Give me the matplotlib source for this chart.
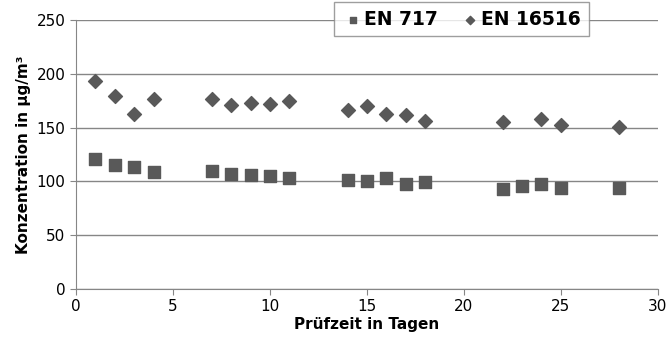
import matplotlib
matplotlib.use("Agg")
import matplotlib.pyplot as plt

# Prüfzeit in Tagen
days_717 = [1, 2, 3, 4, 7, 8, 9, 10, 11, 14, 15, 16, 17, 18, 22, 23, 24, 25, 28]
en717 = [121, 115, 113, 109, 110, 107, 106, 105, 103, 101, 100, 103, 98, 99, 93, 96, 98, 94, 94]

days_16516 = [1, 2, 3, 4, 7, 8, 9, 10, 11, 14, 15, 16, 17, 18, 22, 24, 25, 28]
en16516 = [193, 179, 163, 177, 177, 171, 173, 172, 175, 166, 170, 163, 162, 156, 155, 158, 152, 151]

xticks = [0, 5, 10, 15, 20, 25, 30]
yticks = [0, 50, 100, 150, 200, 250]

grey = "#595959"
line = "#868686"

fig = plt.figure(figsize=(6.72, 3.52), dpi=100)
ax = fig.add_axes([0.113, 0.179, 0.866, 0.764])

ax.scatter(days_717, en717, marker="s", s=70, color=grey, label="EN 717", zorder=3)
ax.scatter(days_16516, en16516, marker="D", s=50, color=grey, label="EN 16516", zorder=3)

ax.set_xlim(0, 30)
ax.set_ylim(0, 250)
ax.set_xticks(xticks)
ax.set_yticks(yticks)
ax.yaxis.grid(True, color=line, lw=1)
ax.set_axisbelow(True)
for s in ["top", "right"]:
    ax.spines[s].set_visible(False)
for s in ["left", "bottom"]:
    ax.spines[s].set_color(line)
ax.tick_params(colors=line, labelcolor="black", labelsize=11, length=4)

ax.set_xlabel("Prüfzeit in Tagen", fontsize=11, fontweight="bold", labelpad=2)
ax.set_ylabel("Konzentration in µg/m³", fontsize=11, fontweight="bold", labelpad=4)

leg = ax.legend(loc="upper center", bbox_to_anchor=(0.662, 1.103), ncol=2, frameon=True,
                fancybox=False, edgecolor=line, prop={"weight": "bold", "size": 13.5},
                handletextpad=0.0, handlelength=1.2, columnspacing=1.1, borderpad=0.42,
                markerscale=0.6)
leg.get_frame().set_linewidth(1)

fig.savefig("out.png", dpi=100)
